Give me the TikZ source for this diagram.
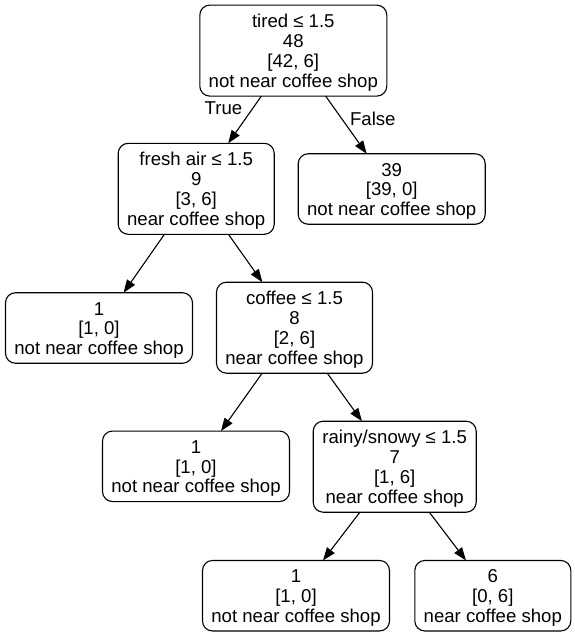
\documentclass[tikz,border=0pt]{standalone}
\usepackage{fontspec}
\setmainfont{Liberation Sans}
\usetikzlibrary{arrows.meta}
\newcommand{\topstrut}{\rule{0pt}{17.5pt}}
\begin{document}
\begin{tikzpicture}[x=1pt,y=-1pt,
  treebox/.style={draw, line width=1.1pt, rounded corners=10pt, align=center,
    inner sep=0pt, outer sep=0pt, font=\fontsize{18.6}{19.8}\selectfont},
  wide/.style={minimum width=187pt},
  narrow/.style={minimum width=156pt},
  tall/.style={minimum height=91pt},
  short/.style={minimum height=70.5pt},
  edge/.style={line width=1.1pt, -{Triangle[length=13pt,width=9.5pt]}},
  elabel/.style={font=\fontsize{18.6}{19.8}\selectfont, inner sep=0pt}
]
\useasboundingbox (0,0) rectangle (575,637);
\node[treebox,wide,tall] (root) at (293.3,50.6) {\topstrut tired ≤ 1.5\\48\\{[42, 6]}\\not near coffee shop};
\node[treebox,narrow,tall] (fresh) at (196.2,188.8) {\topstrut fresh air ≤ 1.5\\9\\{[3, 6]}\\near coffee shop};
\node[treebox,wide,short] (n39) at (391.7,189) {\topstrut 39\\{[39, 0]}\\not near coffee shop};
\node[treebox,wide,short] (l1a) at (99,328) {\topstrut 1\\{[1, 0]}\\not near coffee shop};
\node[treebox,narrow,tall] (coffee) at (294.5,327.7) {\topstrut coffee ≤ 1.5\\8\\{[2, 6]}\\near coffee shop};
\node[treebox,wide,short] (l1b) at (196,466.3) {\topstrut 1\\{[1, 0]}\\not near coffee shop};
\node[treebox,minimum width=163pt,tall] (rainy) at (394.7,466.7) {\topstrut rainy/snowy ≤ 1.5\\7\\{[1, 6]}\\near coffee shop};
\node[treebox,wide,short] (l1c) at (296,595.7) {\topstrut 1\\{[1, 0]}\\not near coffee shop};
\node[treebox,narrow,short] (l6) at (492.8,595.7) {\topstrut 6\\{[0, 6]}\\near coffee shop};
\draw[edge] (root) -- (fresh);
\draw[edge] (root) -- (n39);
\draw[edge] (fresh) -- (l1a);
\draw[edge] (fresh) -- (coffee);
\draw[edge] (coffee) -- (l1b);
\draw[edge] (coffee) -- (rainy);
\draw[edge] (rainy) -- (l1c);
\draw[edge] (rainy) -- (l6);
\node[elabel] (ltrue) at (223.5,108.5) {True};
\node[elabel] (lfalse) at (372.8,118.8) {False};
\end{tikzpicture}
\end{document}
